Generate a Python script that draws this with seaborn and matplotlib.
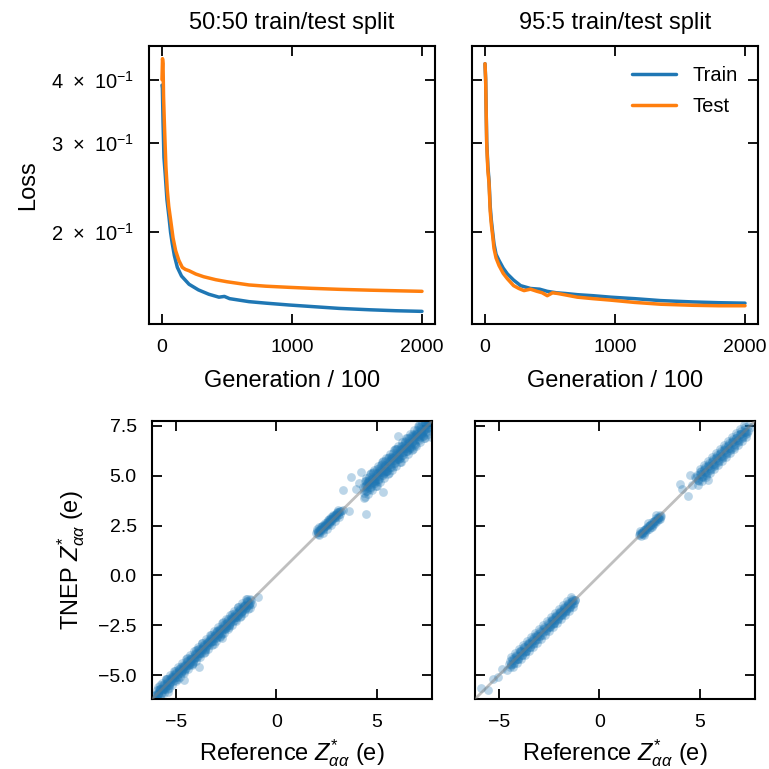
import numpy as np
import pandas as pd
import matplotlib
matplotlib.use("Agg")
import matplotlib.pyplot as plt
from matplotlib.ticker import FixedLocator, FixedFormatter, NullLocator
import seaborn as sns

# ---------------- data: loss curves ----------------
gen_train_5050 = [0, 3, 8, 15, 25, 38, 54, 66, 79, 95, 118, 150, 208, 280, 360, 438, 480, 520,
                  669, 800, 977, 1150, 1362, 1600, 1800, 2000]
loss_train_5050 = [0.39, 0.385, 0.33, 0.281, 0.26, 0.232, 0.214, 0.200, 0.190, 0.180, 0.1706, 0.164,
                   0.158, 0.154, 0.151, 0.149, 0.1495, 0.148, 0.146, 0.145, 0.1438, 0.1428, 0.1416,
                   0.1407, 0.1401, 0.1397]
gen_test_5050 = [0, 4, 8, 12, 18, 23, 30, 41, 52, 67, 85, 105, 130, 156, 180, 208, 260, 320, 413,
                 500, 669, 800, 977, 1150, 1362, 1600, 1800, 2000]
loss_test_5050 = [0.40, 0.44, 0.43, 0.37, 0.33, 0.303, 0.27, 0.2416, 0.225, 0.211, 0.195, 0.184,
                  0.176, 0.1706, 0.169, 0.168, 0.1655, 0.1635, 0.1613, 0.1598, 0.1575, 0.1566,
                  0.1558, 0.1551, 0.1544, 0.1538, 0.1534, 0.153]

gen_train_955 = [0, 5, 13, 22, 31, 40, 49, 60, 69, 85, 108, 140, 172, 220, 274, 350, 420, 479,
                 550, 620, 710, 830, 967, 1150, 1351, 1600, 1800, 2000]
loss_train_955 = [0.43, 0.40, 0.303, 0.27, 0.253, 0.225, 0.211, 0.199, 0.19, 0.181, 0.176, 0.170,
                  0.1656, 0.161, 0.157, 0.155, 0.1545, 0.153, 0.152, 0.1515, 0.1507, 0.150, 0.149,
                  0.148, 0.1467, 0.1458, 0.1453, 0.145]
gen_test_955 = [0, 5, 13, 22, 31, 40, 49, 60, 69, 85, 108, 140, 172, 220, 260, 300, 350, 400, 440,
                479, 520, 560, 620, 710, 830, 967, 1150, 1351, 1600, 1800, 2000]
loss_test_955 = [0.43, 0.40, 0.30, 0.265, 0.25, 0.22, 0.207, 0.196, 0.186, 0.178, 0.172, 0.166,
                 0.162, 0.157, 0.155, 0.1535, 0.1545, 0.153, 0.152, 0.150, 0.152, 0.1515, 0.1505,
                 0.149, 0.148, 0.147, 0.1455, 0.1443, 0.1436, 0.1433, 0.1433]

loss_ticks = [0.2, 0.3, 0.4]
loss_tick_labels = ["2\u2002×\u200210$^{-1}$", "3\u2002×\u200210$^{-1}$", "4\u2002×\u200210$^{-1}$"]
gen_ticks = [0, 1000, 2000]

# ---------------- data: parity (50:50) ----------------
ref_5050 = [
    -6.10, -6.02, -5.95, -5.88, -5.80, -5.72, -5.66, -5.58, -5.50, -5.43, -5.36, -5.28, -5.20, -5.13,
    -5.05, -4.98, -4.90, -4.83, -4.75, -4.68, -4.60, -4.52, -4.45, -4.38, -4.30, -4.22, -4.15, -4.08,
    -4.00, -3.93, -3.85, -3.78, -3.70, -3.62, -3.55, -3.48, -3.40, -3.33, -3.25, -3.18, -3.10, -3.03,
    -2.95, -2.88, -2.80, -2.72, -2.65, -2.58, -2.50, -2.43, -2.35, -2.28, -2.20, -2.13, -2.05, -1.98,
    -1.90, -1.83, -1.75, -1.68, -1.60, -1.53, -1.45, -1.38, -1.30, -1.22,
    -5.95, -5.80, -5.65, -5.50, -5.35, -5.20, -5.05, -4.90, -4.75, -4.60, -4.45, -4.30, -4.15, -4.00,
    -3.85, -3.70, -3.55, -3.40, -3.25, -3.10, -2.95, -2.80, -2.65, -2.50, -2.35, -2.20, -2.05, -1.90,
    -1.75, -1.60, -1.45, -1.30,
    -6.05, -5.92, -5.78, -5.62, -5.47, -5.32, -5.17, -5.02, -4.87, -4.72, -4.57, -4.42, -4.27, -4.12,
    -3.97, -3.82, -3.67, -3.52, -3.37, -3.22, -3.07, -2.92, -2.77, -2.62, -2.47, -2.32, -2.17, -2.02,
    -1.87, -1.72, -1.57, -1.42, -1.27,
    -6.00, -5.90, -5.80, -5.70, -5.60, -5.50, -5.40, -5.30, -5.20, -5.10, -5.00, -4.90, -4.80, -4.70,
    -4.60, -4.50, -4.40, -4.30, -4.20, -4.10, -4.00, -3.90, -3.80, -3.70, -3.60, -3.50, -3.40, -3.30,
    -3.20, -3.10, -3.00, -2.90, -2.80, -2.70, -2.60, -2.50, -2.40, -2.30, -2.20, -2.10, -2.00, -1.90,
    -1.80, -1.70, -1.60, -1.50, -1.40, -1.30,
    -5.95, -5.85, -5.75, -5.65, -5.55, -5.45, -5.35, -5.25, -5.15, -5.05, -4.95, -4.85, -4.75, -4.65,
    -4.55, -4.45, -4.35, -4.25, -4.15, -4.05, -3.95, -3.85, -3.75, -3.65, -3.55, -3.45, -3.35, -3.25,
    -3.15, -3.05, -2.95, -2.85, -2.75, -2.65, -2.55, -2.45, -2.35, -2.25, -2.15, -2.05, -1.95, -1.85,
    -1.75, -1.65, -1.55, -1.45, -1.35,
    -5.90, -5.80, -5.70, -5.60, -5.50, -5.40, -5.30, -5.20, -5.10, -5.00, -4.90, -4.80, -4.70, -4.60,
    -4.50, -4.40, -4.30, -4.20, -4.10, -4.00, -3.90, -3.80, -3.70, -3.60, -3.50, -3.40, -3.30, -3.20,
    -3.10, -3.00, -2.90, -2.80, -2.70, -2.60, -2.50, -2.40, -2.30, -2.20, -2.10, -2.00, -1.90, -1.80,
    -1.70, -1.60, -1.50, -1.40,
    -3.87, -4.60, -0.90, -2.70, -5.40,
    1.95, 2.00, 2.05, 2.10, 2.12, 2.18, 2.20, 2.25, 2.30, 2.33, 2.38, 2.40, 2.45, 2.50, 2.52, 2.58,
    2.60, 2.65, 2.70, 2.72, 2.78, 2.80, 2.85, 2.90, 2.95, 3.00, 3.05, 3.10, 3.15, 3.20, 3.30, 3.60,
    3.05, 2.30, 2.60, 2.15, 2.40, 2.55, 2.75, 2.90, 2.05, 2.65, 2.95,
    2.05, 2.15, 2.25, 2.35, 2.45, 2.55, 2.65, 2.75, 2.85, 2.95, 3.05, 3.15,
    2.00, 2.10, 2.20, 2.30, 2.40, 2.50, 2.60, 2.70, 2.80, 2.90, 3.00, 3.10,
    4.30, 4.38, 4.45, 4.52, 4.60, 4.68, 4.75, 4.82, 4.90, 4.98, 5.05, 5.12, 5.20, 5.28, 5.35, 5.42,
    5.50, 5.58, 5.65, 5.72, 5.80, 5.88, 5.95, 6.02, 6.10, 6.18, 6.25, 6.32, 6.40, 6.48, 6.55, 6.62,
    6.70, 6.78, 6.85, 6.92, 7.00, 7.08, 7.15, 7.22, 7.30, 7.38, 7.45, 7.52, 7.60,
    4.40, 4.55, 4.70, 4.85, 5.00, 5.15, 5.30, 5.45, 5.60, 5.75, 5.90, 6.05, 6.20, 6.35, 6.50, 6.65,
    6.80, 6.95, 7.10, 7.25, 7.40, 7.55,
    4.34, 4.48, 4.63, 4.78, 4.93, 5.08, 5.23, 5.38, 5.53, 5.68, 5.83, 5.98, 6.13, 6.28, 6.43, 6.58,
    6.73, 6.88, 7.03, 7.18, 7.33, 7.48, 7.63,
    4.50, 4.80, 5.10, 5.40, 5.70, 6.00, 6.30, 6.60, 6.90, 7.20, 7.50,
    4.40, 4.50, 4.60, 4.70, 4.80, 4.90, 5.00, 5.10, 5.20, 5.30, 5.40, 5.50, 5.60, 5.70, 5.80, 5.90,
    6.00, 6.10, 6.20, 6.30, 6.40, 6.50, 6.60, 6.70, 6.80, 6.90, 7.00, 7.10, 7.20, 7.30, 7.40, 7.50,
    7.60,
    4.45, 4.55, 4.65, 4.75, 4.85, 4.95, 5.05, 5.15, 5.25, 5.35, 5.45, 5.55, 5.65, 5.75, 5.85, 5.95,
    6.05, 6.15, 6.25, 6.35, 6.45, 6.55, 6.65, 6.75, 6.85, 6.95, 7.05, 7.15, 7.25, 7.35, 7.45, 7.55,
    4.42, 4.52, 4.62, 4.72, 4.82, 4.92, 5.02, 5.12, 5.22, 5.32, 5.42, 5.52, 5.62, 5.72, 5.82, 5.92,
    6.02, 6.12, 6.22, 6.32, 6.42, 6.52, 6.62, 6.72, 6.82, 6.92, 7.02, 7.12, 7.22, 7.32, 7.42, 7.52,
    4.35, 4.45, 4.55, 4.65, 4.75, 4.85, 4.95, 5.05, 5.15, 5.25, 5.35, 5.45, 5.55, 5.65, 5.75, 5.85,
    5.95, 6.05, 6.15, 6.25, 6.35, 6.45, 6.55, 6.65, 6.75, 6.85, 6.95, 7.05, 7.15, 7.25, 7.35, 7.45,
    7.55,
    3.30, 3.72, 4.22, 4.47, 5.30, 6.05, 7.70, 3.95, 4.10,
]
pred_5050 = [
    -6.05, -6.14, -5.77, -5.91, -5.70, -5.92, -5.64, -5.44, -5.58, -5.21, -5.51, -5.21, -5.21, -5.01,
    -5.23, -4.89, -4.96, -4.67, -4.85, -4.65, -4.55, -4.64, -4.27, -4.41, -4.20, -4.42, -4.13, -3.94,
    -4.08, -3.71, -4.00, -3.71, -3.71, -3.50, -3.73, -3.39, -3.46, -3.17, -3.35, -3.15, -3.05, -3.15,
    -2.77, -2.91, -2.70, -2.92, -2.63, -2.44, -2.58, -2.21, -2.50, -2.21, -2.21, -2.01, -2.23, -1.89,
    -1.96, -1.67, -1.85, -1.65, -1.55, -1.65, -1.27, -1.41, -1.20, -1.42,
    -6.18, -5.52, -5.70, -5.20, -5.63, -5.12, -4.80, -5.22, -4.60, -4.82, -4.12, -4.42, -4.40, -3.72,
    -3.90, -3.40, -3.83, -3.32, -3.00, -3.42, -2.80, -3.02, -2.32, -2.62, -2.60, -1.92, -2.10, -1.60,
    -2.03, -1.52, -1.20, -1.62,
    -5.98, -5.97, -5.72, -5.68, -5.40, -5.38, -5.10, -5.08, -4.80, -4.78, -4.50, -4.48, -4.20, -4.18,
    -3.90, -3.88, -3.60, -3.58, -3.30, -3.28, -3.00, -2.98, -2.70, -2.68, -2.40, -2.38, -2.10, -2.08,
    -1.80, -1.78, -1.50, -1.48, -1.22,
    -5.94, -5.96, -5.74, -5.76, -5.54, -5.56, -5.34, -5.36, -5.14, -5.16, -4.94, -4.96, -4.74, -4.76,
    -4.54, -4.56, -4.34, -4.36, -4.14, -4.16, -3.94, -3.96, -3.74, -3.76, -3.54, -3.56, -3.34, -3.36,
    -3.14, -3.16, -2.94, -2.96, -2.74, -2.76, -2.54, -2.56, -2.34, -2.36, -2.14, -2.16, -1.94, -1.96,
    -1.74, -1.76, -1.54, -1.56, -1.34, -1.36,
    -6.10, -5.70, -5.90, -5.50, -5.70, -5.30, -5.50, -5.10, -5.30, -4.90, -5.10, -4.70, -4.90, -4.50,
    -4.70, -4.30, -4.50, -4.10, -4.30, -3.90, -4.10, -3.70, -3.90, -3.50, -3.70, -3.30, -3.50, -3.10,
    -3.30, -2.90, -3.10, -2.70, -2.90, -2.50, -2.70, -2.30, -2.50, -2.10, -2.30, -1.90, -2.10, -1.70,
    -1.90, -1.50, -1.70, -1.30, -1.50,
    -5.60, -6.10, -5.40, -5.90, -5.20, -5.70, -5.00, -5.50, -4.80, -5.30, -4.60, -5.10, -4.40, -4.90,
    -4.20, -4.70, -4.00, -4.50, -3.80, -4.30, -3.60, -4.10, -3.40, -3.90, -3.20, -3.70, -3.00, -3.50,
    -2.80, -3.30, -2.60, -3.10, -2.40, -2.90, -2.20, -2.70, -2.00, -2.50, -1.80, -2.30, -1.60, -2.10,
    -1.40, -1.90, -1.20, -1.70,
    -4.58, -5.25, -1.10, -3.15, -5.85,
    2.15, 2.25, 2.10, 2.30, 2.45, 2.20, 2.35, 2.50, 2.30, 2.55, 2.45, 2.65, 2.50, 2.70, 2.55, 2.80,
    2.65, 2.85, 2.75, 2.95, 2.80, 3.00, 2.90, 3.05, 2.95, 3.15, 3.05, 3.20, 3.10, 3.25, 3.30, 3.25,
    3.30, 2.35, 2.60, 2.30, 2.50, 2.65, 2.85, 2.95, 2.20, 2.75, 3.05,
    2.20, 2.30, 2.40, 2.50, 2.60, 2.70, 2.80, 2.90, 3.00, 3.10, 3.20, 3.25,
    2.35, 2.05, 2.45, 2.15, 2.55, 2.35, 2.85, 2.55, 3.05, 2.75, 3.20, 2.95,
    4.42, 4.13, 4.75, 4.47, 4.80, 4.33, 4.83, 5.20, 4.72, 5.00, 4.75, 5.37, 5.08, 5.61, 5.13, 5.54,
    5.25, 5.88, 5.60, 5.92, 5.45, 5.96, 6.33, 5.84, 6.12, 5.88, 6.50, 6.20, 6.73, 6.26, 6.67, 6.37,
    7.00, 6.73, 7.05, 6.57, 7.08, 7.46, 6.97, 7.24, 7.00, 7.63, 7.33, 7.65, 7.38,
    3.95, 4.70, 5.15, 4.75, 4.50, 5.20, 5.72, 5.25, 5.15, 5.90, 6.35, 5.95, 5.70, 6.40, 6.92, 6.45,
    6.35, 7.10, 7.55, 7.15, 6.90, 7.60,
    4.30, 4.55, 4.58, 4.85, 4.88, 5.15, 5.18, 5.45, 5.48, 5.75, 5.78, 6.05, 6.08, 6.35, 6.38, 6.65,
    6.68, 6.95, 6.98, 7.25, 7.28, 7.55, 7.58,
    4.62, 4.70, 5.22, 5.30, 5.82, 5.90, 6.42, 6.50, 7.02, 7.10, 7.45,
    4.50, 4.40, 4.70, 4.60, 4.90, 4.80, 5.10, 5.00, 5.30, 5.20, 5.50, 5.40, 5.70, 5.60, 5.90, 5.80,
    6.10, 6.00, 6.30, 6.20, 6.50, 6.40, 6.70, 6.60, 6.90, 6.80, 7.10, 7.00, 7.30, 7.20, 7.50, 7.40,
    7.70,
    4.25, 4.75, 4.45, 4.95, 4.65, 5.15, 4.85, 5.35, 5.05, 5.55, 5.25, 5.75, 5.45, 5.95, 5.65, 6.15,
    5.85, 6.35, 6.05, 6.55, 6.25, 6.75, 6.45, 6.95, 6.65, 7.15, 6.85, 7.35, 7.05, 7.55, 7.25, 7.70,
    4.72, 4.22, 4.92, 4.42, 5.12, 4.62, 5.32, 4.82, 5.52, 5.02, 5.72, 5.22, 5.92, 5.42, 6.12, 5.62,
    6.32, 5.82, 6.52, 6.02, 6.72, 6.22, 6.92, 6.42, 7.12, 6.62, 7.32, 6.82, 7.52, 7.02, 7.70, 7.22,
    3.90, 4.90, 4.10, 5.10, 4.30, 5.30, 4.50, 5.50, 4.70, 5.70, 4.90, 5.90, 5.10, 6.10, 5.30, 6.30,
    5.50, 6.50, 5.70, 6.70, 5.90, 6.90, 6.10, 7.10, 6.30, 7.30, 6.50, 7.50, 6.70, 7.70, 6.90, 7.70,
    7.10,
    4.28, 4.92, 5.17, 3.08, 4.18, 7.02, 6.94, 4.35, 4.65,
]

# ---------------- data: parity (95:5) ----------------
ref_955 = [
    -5.90, -5.55, -5.30, -5.05, -4.85, -4.60, -4.45, -4.30, -4.18, -4.05, -3.95, -3.85, -3.75, -3.65,
    -3.55, -3.45, -3.35, -3.25, -3.15, -3.05, -2.95, -2.80, -2.65, -2.50, -2.40, -2.30, -2.20, -2.10,
    -2.00, -1.90, -1.80, -1.70, -1.60, -1.50, -1.40, -1.30, -1.20,
    -4.40, -4.25, -4.10, -3.90, -3.70, -3.50, -3.30, -3.10, -2.45, -2.35, -2.25, -2.15, -2.05, -1.95,
    -1.85, -1.75, -1.65, -1.55, -1.45, -1.35,
    -4.50, -4.40, -4.30, -4.20, -4.10, -4.00, -3.90, -3.80, -3.70, -3.60, -3.50, -3.40, -3.30, -3.20,
    -3.10, -3.00, -2.90, -2.80, -2.70, -2.60, -2.50, -2.40, -2.30, -2.20, -2.10, -2.00, -1.90, -1.80,
    -1.70, -1.60, -1.50, -1.40, -1.30, -1.20,
    -4.45, -4.35, -4.25, -4.15, -4.05, -3.95, -3.85, -3.75, -3.65, -3.55, -3.45, -3.35, -3.25, -3.15,
    -3.05, -2.95, -2.85, -2.75, -2.65, -2.55, -2.45, -2.35, -2.25, -2.15, -2.05, -1.95, -1.85, -1.75,
    -1.65, -1.55, -1.45, -1.35, -1.25,
    -4.40, -4.30, -4.20, -4.10, -4.00, -3.90, -3.80, -3.70, -3.60, -3.50, -3.40, -3.30, -3.20, -3.10,
    -3.00, -2.90, -2.80, -2.70, -2.60, -2.50, -2.40, -2.30, -2.20, -2.10, -2.00, -1.90, -1.80, -1.70,
    -1.60, -1.50, -1.40, -1.30,
    1.95, 2.00, 2.05, 2.10, 2.15, 2.20, 2.25, 2.30, 2.35, 2.40, 2.45, 2.50, 2.55, 2.60, 2.65, 2.70,
    2.75, 2.80, 2.85, 2.90, 2.95, 3.00, 3.05,
    2.10, 2.30, 2.50, 2.70, 2.90,
    2.00, 2.10, 2.20, 2.30, 2.40, 2.50, 2.60, 2.70, 2.80, 2.90, 3.00,
    2.00, 2.20, 2.40, 2.60, 2.80, 3.00,
    4.03, 4.10, 4.40, 4.50, 5.43, 4.60, 4.75, 4.90, 5.00, 5.10, 5.20, 5.30, 5.40, 5.50, 5.60, 5.70,
    5.80, 5.90, 6.00, 6.10, 6.20, 6.30, 6.40, 6.50, 6.60, 6.70, 6.80, 6.90, 7.00, 7.10, 7.20, 7.30,
    7.40, 7.55,
    5.05, 5.25, 5.45, 5.65, 5.85, 6.05, 6.25, 6.45, 6.65, 6.85, 7.05, 7.25,
    4.80, 4.90, 5.00, 5.10, 5.20, 5.30, 5.40, 5.50, 5.60, 5.70, 5.80, 5.90, 6.00, 6.10, 6.20, 6.30,
    6.40, 6.50, 6.60, 6.70, 6.80, 6.90, 7.00, 7.10, 7.20, 7.30, 7.40,
    4.85, 4.95, 5.05, 5.15, 5.25, 5.35, 5.45, 5.55, 5.65, 5.75, 5.85, 5.95, 6.05, 6.15, 6.25, 6.35,
    6.45, 6.55, 6.65, 6.75, 6.85, 6.95, 7.05, 7.15, 7.25, 7.35,
    4.90, 5.00, 5.10, 5.20, 5.30, 5.40, 5.50, 5.60, 5.70, 5.80, 5.90, 6.00, 6.10, 6.20, 6.30, 6.40,
    6.50, 6.60, 6.70, 6.80, 6.90, 7.00, 7.10, 7.20, 7.30,
]
pred_955 = [
    -5.65, -5.75, -5.20, -5.10, -4.70, -4.75, -4.30, -4.45, -4.05, -4.20, -3.80, -4.00, -3.60, -3.80,
    -3.45, -3.60, -3.30, -3.10, -3.25, -2.95, -3.05, -2.70, -2.75, -2.60, -2.30, -2.45, -2.10, -2.25,
    -1.90, -2.00, -1.75, -1.85, -1.55, -1.65, -1.35, -1.45, -1.25,
    -4.50, -4.15, -4.20, -3.80, -3.85, -3.40, -3.45, -3.05, -2.55, -2.25, -2.40, -2.05, -2.15, -1.85,
    -1.95, -1.65, -1.75, -1.45, -1.55, -1.30,
    -4.45, -4.45, -4.25, -4.25, -4.05, -4.05, -3.85, -3.85, -3.65, -3.65, -3.45, -3.45, -3.25, -3.25,
    -3.05, -3.05, -2.85, -2.85, -2.65, -2.65, -2.45, -2.45, -2.25, -2.25, -2.05, -2.05, -1.85, -1.85,
    -1.65, -1.65, -1.45, -1.45, -1.25, -1.25,
    -4.60, -4.20, -4.40, -4.00, -4.20, -3.80, -4.00, -3.60, -3.80, -3.40, -3.60, -3.20, -3.40, -3.00,
    -3.20, -2.80, -3.00, -2.60, -2.80, -2.40, -2.60, -2.20, -2.40, -2.00, -2.20, -1.80, -2.00, -1.60,
    -1.80, -1.40, -1.60, -1.20, -1.40,
    -4.10, -4.60, -3.90, -4.40, -3.70, -4.20, -3.50, -4.00, -3.30, -3.80, -3.10, -3.60, -2.90, -3.40,
    -2.70, -3.20, -2.50, -3.00, -2.30, -2.80, -2.10, -2.60, -1.90, -2.40, -1.70, -2.20, -1.50, -2.00,
    -1.30, -1.80, -1.10, -1.60,
    2.05, 2.15, 2.00, 2.20, 2.10, 2.30, 2.20, 2.40, 2.30, 2.45, 2.35, 2.55, 2.45, 2.60, 2.55, 2.70,
    2.65, 2.80, 2.75, 2.90, 2.85, 2.95, 3.00,
    2.15, 2.35, 2.55, 2.75, 2.90,
    2.10, 2.15, 2.30, 2.35, 2.50, 2.55, 2.70, 2.75, 2.90, 2.95, 3.05,
    2.25, 2.05, 2.65, 2.45, 3.05, 2.85,
    4.58, 4.35, 4.00, 5.03, 4.78, 4.55, 4.95, 4.80, 5.20, 4.95, 5.35, 5.05, 5.55, 5.30, 5.75, 5.50,
    5.95, 5.70, 6.15, 5.90, 6.35, 6.10, 6.55, 6.30, 6.75, 6.45, 6.90, 6.70, 7.10, 6.90, 7.20, 7.10,
    7.25, 7.45,
    5.10, 5.20, 5.50, 5.60, 5.90, 6.00, 6.30, 6.40, 6.70, 6.80, 7.10, 7.20,
    4.90, 4.80, 5.10, 5.00, 5.30, 5.20, 5.50, 5.40, 5.70, 5.60, 5.90, 5.80, 6.10, 6.00, 6.30, 6.20,
    6.50, 6.40, 6.70, 6.60, 6.90, 6.80, 7.10, 7.00, 7.30, 7.20, 7.50,
    5.05, 4.75, 5.25, 4.95, 5.45, 5.15, 5.65, 5.35, 5.85, 5.55, 6.05, 5.75, 6.25, 5.95, 6.45, 6.15,
    6.65, 6.35, 6.85, 6.55, 7.05, 6.75, 7.25, 6.95, 7.45, 7.15,
    4.55, 5.35, 4.75, 5.55, 4.95, 5.75, 5.15, 5.95, 5.35, 6.15, 5.55, 6.35, 5.75, 6.55, 5.95, 6.75,
    6.15, 6.95, 6.35, 7.15, 6.55, 7.35, 6.75, 7.55, 6.95,
]

titles = ["50:50 train/test split", "95:5 train/test split"]
parity_lims = (-6.2, 7.75)
parity_xticks = [-5, 0, 5]
parity_yticks = [-5, -2.5, 0, 2.5, 5, 7.5]

# ---------------- style ----------------
sns.set_style("ticks")
plt.rcParams["font.family"] = ["Liberation Sans", "DejaVu Sans"]
plt.rcParams["mathtext.fontset"] = "custom"
plt.rcParams["mathtext.rm"] = "Liberation Sans"
plt.rcParams["mathtext.it"] = "Liberation Sans:italic"
plt.rcParams["mathtext.bf"] = "Liberation Sans:bold"
for k in ["text.color", "axes.labelcolor", "xtick.color", "ytick.color", "axes.edgecolor"]:
    plt.rcParams[k] = "black"

BLUE = "#1f77b4"
ORANGE = "#ff7f0e"

W = 769.0
fig = plt.figure(figsize=(7.69, 7.69), dpi=100)


def rect(l, r, t, b):
    return [l / W, (W - b) / W, (r - l) / W, (b - t) / W]


ax_tl = fig.add_axes(rect(149, 435, 46, 324))
ax_tr = fig.add_axes(rect(472, 758, 46, 324), sharey=ax_tl)
ax_bl = fig.add_axes(rect(152, 432, 421, 699))
ax_br = fig.add_axes(rect(475, 755, 421, 699), sharey=ax_bl)


def style(ax):
    for which in ("major", "minor"):
        ax.tick_params(axis="both", which=which, direction="in", top=True, right=True,
                       length=7, width=1.3, labelsize=14, color="black", labelcolor="black",
                       pad=11)
    for s in ax.spines.values():
        s.set_linewidth(1.5)
        s.set_color("black")


# loss panels
for ax, gtr, ltr, gte, lte, title in [
    (ax_tl, gen_train_5050, loss_train_5050, gen_test_5050, loss_test_5050, titles[0]),
    (ax_tr, gen_train_955, loss_train_955, gen_test_955, loss_test_955, titles[1]),
]:
    sns.lineplot(x=gtr, y=ltr, ax=ax, color=BLUE, lw=2.5, label="Train")
    sns.lineplot(x=gte, y=lte, ax=ax, color=ORANGE, lw=2.5, label="Test")
    ax.set_yscale("log")
    ax.set_xticks(gen_ticks)
    ax.set_xlabel("Generation / 100", fontsize=17, labelpad=10)
    ax.set_title(title, fontsize=17, pad=12)
    style(ax)

ax_tl.yaxis.set_major_locator(NullLocator())
ax_tl.yaxis.set_minor_locator(FixedLocator(loss_ticks))
ax_tl.yaxis.set_minor_formatter(FixedFormatter(loss_tick_labels))
ax_tl.tick_params(axis="y", which="minor", labelsize=14.5)
ax_tl.set_ylabel("Loss", fontsize=17, labelpad=8)
ax_tl.get_legend().remove()
ax_tr.set_ylabel("")
ax_tr.tick_params(labelleft=False, which="both")
ax_tr.legend(loc="upper right", frameon=False, fontsize=14.5, handlelength=2.2,
             labelspacing=0.6, borderaxespad=0.6)

# parity panels
for ax, rx, py in [(ax_bl, ref_5050, pred_5050), (ax_br, ref_955, pred_955)]:
    df = pd.DataFrame({"ref": rx, "pred": py})
    sns.scatterplot(data=df, x="ref", y="pred", ax=ax, color=BLUE, alpha=0.3, s=40,
                    linewidth=0)
    ax.plot(parity_lims, parity_lims, color="gray", alpha=0.5, lw=2, zorder=3)
    ax.set_xlim(parity_lims)
    ax.set_ylim(parity_lims)
    ax.set_xticks(parity_xticks)
    ax.set_yticks(parity_yticks)
    ax.set_xlabel(r"Reference $Z^{*}_{\alpha\alpha}$ (e)", fontsize=17, labelpad=4)
    style(ax)

ax_bl.set_ylabel(r"TNEP $Z^{*}_{\alpha\alpha}$ (e)", fontsize=17, labelpad=8)
ax_br.set_ylabel("")
ax_br.tick_params(labelleft=False)

fig.savefig("out.png", dpi=100)
